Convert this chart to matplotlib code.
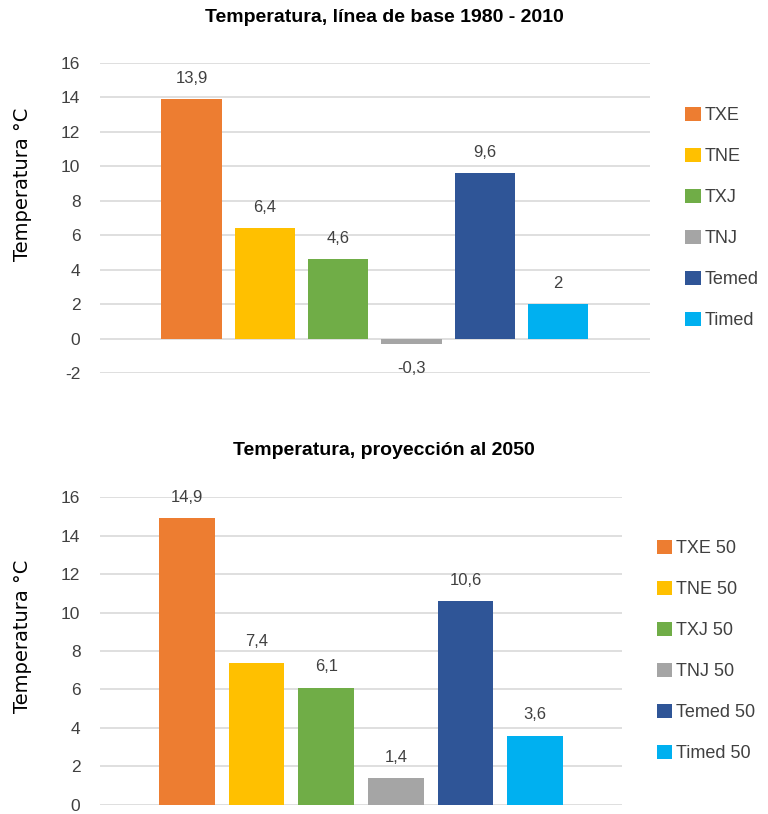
import matplotlib
matplotlib.use("Agg")
import matplotlib.pyplot as plt

# Data
base_labels = ["TXE", "TNE", "TXJ", "TNJ", "Temed", "Timed"]
base_values = [13.9, 6.4, 4.6, -0.3, 9.6, 2.0]
proj_labels = ["TXE 50", "TNE 50", "TXJ 50", "TNJ 50", "Temed 50", "Timed 50"]
proj_values = [14.9, 7.4, 6.1, 1.4, 10.6, 3.6]
colors = ["#ED7D31", "#FFC000", "#70AD47", "#A5A5A5", "#2F5597", "#00B0F0"]

title_base = "Temperatura, línea de base 1980 - 2010"
title_proj = "Temperatura, proyección al 2050"
ylabel = "Temperatura °C"

plt.rcParams["font.family"] = ["Liberation Sans", "DejaVu Sans"]
plt.rcParams["axes.unicode_minus"] = False


def fmt(v):
    s = f"{v:.1f}".replace(".", ",")
    return s[:-2] if s.endswith(",0") else s


def panel(ax, labels, values, ylim, yticks, width, legend_anchor, title, title_y, ylabel_y):
    x = list(range(len(values)))
    for i, (lab, v, c) in enumerate(zip(labels, values, colors)):
        ax.bar(x[i], v, width=width, color=c, label=lab, zorder=3)
    for i, v in enumerate(values):
        off = 15 if v >= 0 else -18
        ax.annotate(fmt(v), (x[i], v), xytext=(0, off), textcoords="offset points",
                    ha="center", va="center", fontsize=12, color="#404040", zorder=4)
    ax.set_ylim(*ylim)
    ax.set_yticks(yticks)
    ax.set_xlim(-1.25, 6.25)
    ax.set_xticks([])
    ax.grid(axis="y", color="#d9d9d9", linewidth=1.2, zorder=0)
    for s in ax.spines.values():
        s.set_visible(False)
    ax.tick_params(axis="y", length=0, labelsize=12.5, labelcolor="#404040", pad=14)
    leg = ax.legend(loc="center left", bbox_to_anchor=legend_anchor, frameon=False,
                    fontsize=13, handlelength=0.85, handleheight=0.85,
                    handletextpad=0.2, labelspacing=1.3)
    for t in leg.get_texts():
        t.set_color("#404040")
    fig = ax.figure
    fig.text(0.5, title_y, title, ha="center", va="center",
             fontsize=14, fontweight="bold")
    fig.text(0.029, ylabel_y, ylabel, rotation=90, ha="center", va="center",
             family="DejaVu Sans", fontsize=14, color="#000000")


fig = plt.figure(figsize=(7.68, 8.14), dpi=100)
ax1 = fig.add_axes([0.130, 0.5418, 0.716, 0.3808])
ax2 = fig.add_axes([0.130, 0.0111, 0.680, 0.3783])

panel(ax1, base_labels, base_values, (-2, 16), range(-2, 17, 2), 0.82,
      (1.035, 0.5), title_base, 0.978, 1 - 184 / 814)
panel(ax2, proj_labels, proj_values, (0, 16), range(0, 17, 2), 0.80,
      (1.035, 0.5), title_proj, 0.446, 1 - 636 / 814)

fig.savefig("out.png", dpi=100)
